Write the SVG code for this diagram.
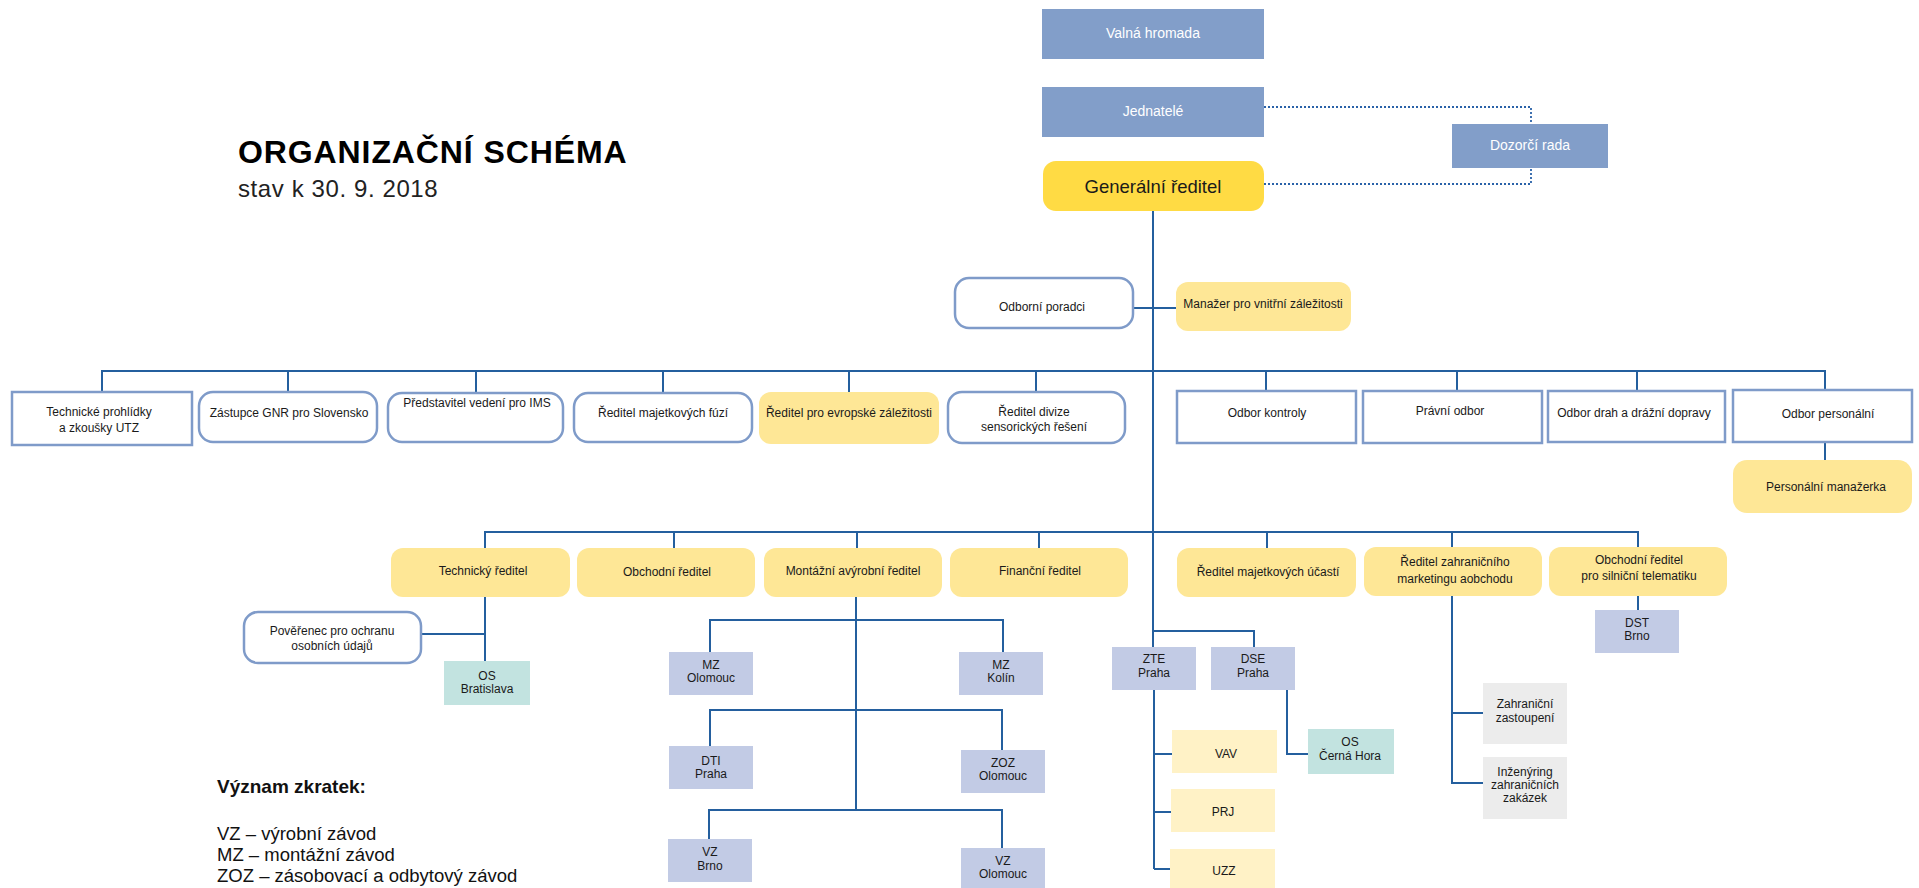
<svg xmlns="http://www.w3.org/2000/svg" width="1919" height="888" viewBox="0 0 1919 888">
<style>
text{font-family:"Liberation Sans",Arial,sans-serif;fill:#1a1a1a;font-size:12px;text-anchor:middle}
.top{fill:#829ec9}
.topt{fill:#ffffff;font-size:14px}
.gen{fill:#ffdb44}
.gent{font-size:18.5px}
.yel{fill:#fee796}
.pale{fill:#fff2c6}
.lav{fill:#c2cbe5}
.mint{fill:#c2e3e0}
.gray{fill:#ececec}
.wb{fill:#ffffff;stroke:#7f9bc9;stroke-width:2.5}
.ln{fill:none;stroke:#245f9e;stroke-width:2}
.dot{fill:none;stroke:#2a62a8;stroke-width:1.8;stroke-dasharray:2 2}
.title{font-size:32px;font-weight:bold;text-anchor:start;fill:#000;letter-spacing:0.9px}
.sub{font-size:24px;text-anchor:start;fill:#222;letter-spacing:0.6px}
.leg{font-size:18.5px;text-anchor:start;fill:#111}
.legb{font-size:19px;font-weight:bold;text-anchor:start;fill:#111}
</style>

<g id="title">
<text class="title" x="238" y="163">ORGANIZAČNÍ SCHÉMA</text>
<text class="sub" x="238" y="197">stav k 30. 9. 2018</text>
</g>

<g id="connectors">
<path class="dot" d="M1264 107 H1531 V124"/>
<path class="dot" d="M1264 184 H1531 V168"/>
<path class="ln" d="M1153 211 V647"/>
<path class="ln" d="M1154 690 V869"/>
<path class="ln" d="M1133 308 H1176"/>
<path class="ln" d="M102 392 V371 H1825 V391"/>
<path class="ln" d="M288 371 V392 M476 371 V393 M663 371 V393 M849 371 V392 M1036 371 V392 M1266 371 V391 M1457 371 V391 M1637 371 V391"/>
<path class="ln" d="M1825 442 V460"/>
<path class="ln" d="M485 548 V532 H1638 V547"/>
<path class="ln" d="M674 532 V548 M857 532 V548 M1039 532 V548 M1267 532 V548 M1452 532 V547"/>
<path class="ln" d="M485 597 V661 M421 634 H485"/>
<path class="ln" d="M856 597 V810"/>
<path class="ln" d="M710 652 V620 H1003 V652"/>
<path class="ln" d="M710 746 V710 H1002 V750"/>
<path class="ln" d="M709 839 V810 H1002 V848"/>
<path class="ln" d="M1153 631 H1254 V647"/>
<path class="ln" d="M1154 754 H1172 M1154 812 H1171 M1154 869 H1170"/>
<path class="ln" d="M1287 690 V754 H1308"/>
<path class="ln" d="M1452 596 V783 H1483 M1452 713 H1483"/>
<path class="ln" d="M1638 596 V610"/>
</g>

<g id="valna-hromada"><rect class="top" x="1042" y="9" width="222" height="50"/><text class="topt" x="1153" y="38">Valná hromada</text></g>
<g id="jednatele"><rect class="top" x="1042" y="87" width="222" height="50"/><text class="topt" x="1153" y="116">Jednatelé</text></g>
<g id="dozorci-rada"><rect class="top" x="1452" y="124" width="156" height="44"/><text class="topt" x="1530" y="150">Dozorčí rada</text></g>
<g id="generalni-reditel"><rect class="gen" x="1043" y="161" width="221" height="50" rx="13"/><text class="gent" x="1153" y="193">Generální ředitel</text></g>

<g id="odborni-poradci"><rect class="wb" x="955" y="278" width="178" height="50" rx="14"/><text x="1042" y="311">Odborní poradci</text></g>
<g id="manazer-vnitrni"><rect class="yel" x="1176" y="282" width="175" height="49" rx="12"/><text x="1263" y="308">Manažer pro vnitřní záležitosti</text></g>

<g id="technicke-prohlidky"><rect class="wb" x="12" y="392" width="180" height="53"/><text x="99" y="416">Technické prohlídky</text><text x="99" y="432">a zkoušky UTZ</text></g>
<g id="zastupce-gnr"><rect class="wb" x="199" y="392" width="178" height="50" rx="14"/><text x="289" y="417">Zástupce GNR pro Slovensko</text></g>
<g id="predstavitel-ims"><rect class="wb" x="388" y="393" width="175" height="49" rx="14"/><text x="477" y="407">Představitel vedení pro IMS</text></g>
<g id="reditel-fuzi"><rect class="wb" x="574" y="393" width="178" height="49" rx="14"/><text x="663" y="417">Ředitel majetkových fúzí</text></g>
<g id="reditel-evropske"><rect class="yel" x="759" y="392" width="180" height="52" rx="12"/><text x="849" y="417">Ředitel pro evropské záležitosti</text></g>
<g id="reditel-divize"><rect class="wb" x="948" y="392" width="177" height="51" rx="14"/><text x="1034" y="416">Ředitel divize</text><text x="1034" y="431">sensorických řešení</text></g>
<g id="odbor-kontroly"><rect class="wb" x="1177" y="391" width="179" height="52"/><text x="1267" y="417">Odbor kontroly</text></g>
<g id="pravni-odbor"><rect class="wb" x="1363" y="391" width="179" height="52"/><text x="1450" y="415">Právní odbor</text></g>
<g id="odbor-drah"><rect class="wb" x="1548" y="391" width="177" height="51"/><text x="1634" y="417">Odbor drah a drážní dopravy</text></g>
<g id="odbor-personalni"><rect class="wb" x="1733" y="390" width="179" height="52"/><text x="1828" y="418">Odbor personální</text></g>
<g id="personalni-manazerka"><rect class="yel" x="1733" y="460" width="179" height="53" rx="14"/><text x="1826" y="491">Personální manažerka</text></g>

<g id="technicky-reditel"><rect class="yel" x="391" y="548" width="179" height="49" rx="12"/><text x="483" y="575">Technický ředitel</text></g>
<g id="obchodni-reditel"><rect class="yel" x="577" y="548" width="178" height="49" rx="12"/><text x="667" y="576">Obchodní ředitel</text></g>
<g id="montazni-reditel"><rect class="yel" x="764" y="548" width="178" height="49" rx="12"/><text x="853" y="575">Montážní avýrobní ředitel</text></g>
<g id="financni-reditel"><rect class="yel" x="950" y="548" width="178" height="49" rx="12"/><text x="1040" y="575">Finanční ředitel</text></g>
<g id="reditel-ucasti"><rect class="yel" x="1177" y="548" width="179" height="49" rx="12"/><text x="1268" y="576">Ředitel majetkových účastí</text></g>
<g id="reditel-zahranicniho"><rect class="yel" x="1364" y="547" width="178" height="49" rx="12"/><text x="1455" y="566">Ředitel zahraničního</text><text x="1455" y="583">marketingu aobchodu</text></g>
<g id="obchodni-silnicni"><rect class="yel" x="1549" y="547" width="178" height="49" rx="12"/><text x="1639" y="564">Obchodní ředitel</text><text x="1639" y="580">pro silniční telematiku</text></g>

<g id="poverenec"><rect class="wb" x="244" y="612" width="177" height="51" rx="14"/><text x="332" y="635">Pověřenec pro ochranu</text><text x="332" y="650">osobních údajů</text></g>
<g id="os-bratislava"><rect class="mint" x="444" y="661" width="86" height="44"/><text x="487" y="680">OS</text><text x="487" y="693">Bratislava</text></g>

<g id="mz-olomouc"><rect class="lav" x="669" y="652" width="84" height="43"/><text x="711" y="669">MZ</text><text x="711" y="682">Olomouc</text></g>
<g id="mz-kolin"><rect class="lav" x="959" y="652" width="84" height="43"/><text x="1001" y="669">MZ</text><text x="1001" y="682">Kolín</text></g>
<g id="dti-praha"><rect class="lav" x="669" y="746" width="84" height="43"/><text x="711" y="765">DTI</text><text x="711" y="778">Praha</text></g>
<g id="zoz-olomouc"><rect class="lav" x="961" y="750" width="84" height="43"/><text x="1003" y="767">ZOZ</text><text x="1003" y="780">Olomouc</text></g>
<g id="vz-brno"><rect class="lav" x="668" y="839" width="84" height="43"/><text x="710" y="856">VZ</text><text x="710" y="870">Brno</text></g>
<g id="vz-olomouc"><rect class="lav" x="961" y="848" width="84" height="42"/><text x="1003" y="865">VZ</text><text x="1003" y="878">Olomouc</text></g>

<g id="zte-praha"><rect class="lav" x="1112" y="647" width="84" height="43"/><text x="1154" y="663">ZTE</text><text x="1154" y="677">Praha</text></g>
<g id="dse-praha"><rect class="lav" x="1211" y="647" width="84" height="43"/><text x="1253" y="663">DSE</text><text x="1253" y="677">Praha</text></g>
<g id="vav"><rect class="pale" x="1172" y="730" width="105" height="43"/><text x="1226" y="758">VAV</text></g>
<g id="prj"><rect class="pale" x="1171" y="789" width="104" height="43"/><text x="1223" y="816">PRJ</text></g>
<g id="uzz"><rect class="pale" x="1170" y="849" width="105" height="41"/><text x="1224" y="875">UZZ</text></g>
<g id="os-cerna-hora"><rect class="mint" x="1308" y="729" width="86" height="45"/><text x="1350" y="746">OS</text><text x="1350" y="760">Černá Hora</text></g>

<g id="dst-brno"><rect class="lav" x="1595" y="610" width="84" height="43"/><text x="1637" y="627">DST</text><text x="1637" y="640">Brno</text></g>
<g id="zahranicni-zastoupeni"><rect class="gray" x="1483" y="683" width="84" height="61"/><text x="1525" y="708">Zahraniční</text><text x="1525" y="722">zastoupení</text></g>
<g id="inzenyring"><rect class="gray" x="1483" y="757" width="84" height="62"/><text x="1525" y="776">Inženýring</text><text x="1525" y="789">zahraničních</text><text x="1525" y="802">zakázek</text></g>

<g id="legend">
<text class="legb" x="217" y="793">Význam zkratek:</text>
<text class="leg" x="217" y="840">VZ – výrobní závod</text>
<text class="leg" x="217" y="861">MZ – montážní závod</text>
<text class="leg" x="217" y="882">ZOZ – zásobovací a odbytový závod</text>
</g>
</svg>
